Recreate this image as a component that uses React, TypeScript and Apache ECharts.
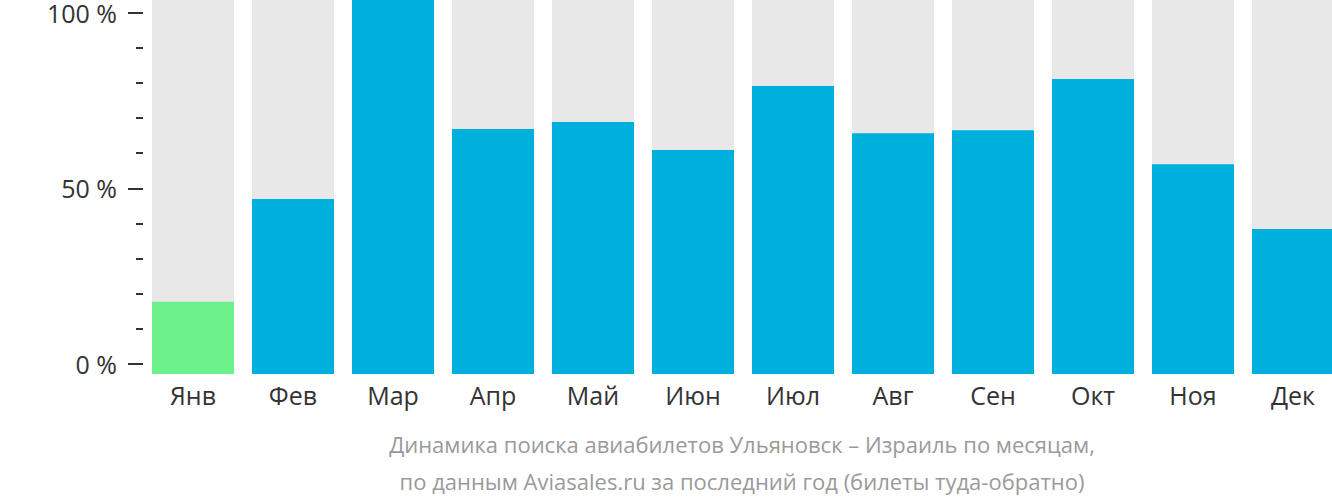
import React, { useEffect, useRef } from "react";
import * as echarts from "echarts";

const months = ["Янв", "Фев", "Мар", "Апр", "Май", "Июн", "Июл", "Авг", "Сен", "Окт", "Ноя", "Дек"];
const values = [19.3, 46.8, 100, 65.5, 67.4, 59.9, 77.0, 64.4, 65.2, 78.9, 56.1, 38.8];
const background = [100, 100, 100, 100, 100, 100, 100, 100, 100, 100, 100, 100];
const highlightIndex = 0;
const titleLines = [
  "Динамика поиска авиабилетов Ульяновск – Израиль по месяцам,",
  "по данным Aviasales.ru за последний год (билеты туда-обратно)",
];

const FONT = "'Open Sans', 'Noto Sans', sans-serif";

export default function App() {
  const ref = useRef<HTMLDivElement>(null);
  useEffect(() => {
    document.body.style.margin = "0";
    document.body.style.overflow = "hidden";
    const chart = echarts.init(ref.current!, null, { renderer: "svg" });
    chart.setOption({
      animation: false,
      grid: [
        { left: 143, right: 0, top: 0, bottom: 128, containLabel: false },
        { left: 143, right: 0, top: 8, bottom: 138, containLabel: false },
      ],
      xAxis: [
        {
          type: "category",
          gridIndex: 0,
          data: months,
          axisLine: { show: false },
          axisTick: { show: false },
          axisLabel: { color: "#333", fontSize: 25, fontFamily: FONT, margin: 8 },
        },
        { type: "category", gridIndex: 1, data: months, show: false },
      ],
      yAxis: [
        { type: "value", gridIndex: 0, min: 0, max: 100, show: false },
        {
          type: "value",
          gridIndex: 1,
          min: 0,
          max: 100,
          interval: 50,
          axisLine: { show: false },
          splitLine: { show: false },
          axisTick: { show: true, length: 15, lineStyle: { color: "#333", width: 2 } },
          minorTick: { show: true, splitNumber: 5, length: 7, lineStyle: { color: "#333", width: 2 } },
          axisLabel: {
            color: "#333",
            fontSize: 25,
            fontFamily: FONT,
            margin: 26,
            formatter: (v: number) => `${v} %`,
          },
        },
      ],
      series: [
        {
          type: "bar",
          xAxisIndex: 0,
          yAxisIndex: 0,
          data: background,
          barWidth: 82,
          itemStyle: { color: "#e8e8e8" },
          silent: true,
          z: 1,
        },
        {
          type: "bar",
          xAxisIndex: 0,
          yAxisIndex: 0,
          barGap: "-100%",
          barWidth: 82,
          data: values.map((v, i) =>
            i === highlightIndex ? { value: v, itemStyle: { color: "#6cf08a" } } : v
          ),
          itemStyle: { color: "#00b0dc" },
          z: 2,
        },
      ],
      graphic: [
        {
          type: "text",
          x: 742,
          y: 425,
          style: {
            text: titleLines.join("\n"),
            textAlign: "center",
            fontSize: 22,
            lineHeight: 37,
            fontFamily: FONT,
            fill: "#9a9a9a",
          },
        },
      ],
    });
    return () => chart.dispose();
  }, []);
  return <div ref={ref} style={{ width: 1343, height: 502 }} />;
}
